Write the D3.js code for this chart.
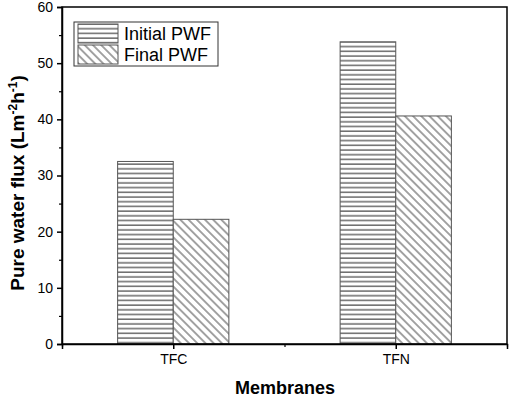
<!DOCTYPE html>
<html>
<head>
<meta charset="utf-8">
<script src="https://cdn.jsdelivr.net/npm/d3@7"></script>
<style>
  body { margin: 0; background: #fff; }
  svg { font-family: Arial, "Liberation Sans", sans-serif; }
</style>
</head>
<body>
<div id="chart"></div>
<script>
// data
var membranes = ["TFC", "TFN"];
var seriesNames = ["Initial PWF", "Final PWF"];
var initialPWF = [32.5, 53.8];
var finalPWF = [22.2, 40.6];
var yTicks = [0, 10, 20, 30, 40, 50, 60];

var width = 510, height = 397;
var margin = {top: 7, right: 3, bottom: 53, left: 62};
var w = width - margin.left - margin.right;
var h = height - margin.top - margin.bottom;

var svg = d3.select("#chart").append("svg")
    .attr("width", width)
    .attr("height", height);

var defs = svg.append("defs");
// horizontal hatch
var p1 = defs.append("pattern")
    .attr("id", "hatchH")
    .attr("patternUnits", "userSpaceOnUse")
    .attr("width", 8).attr("height", 4.7);
p1.append("rect").attr("width", 8).attr("height", 4.7).attr("fill", "#fff");
p1.append("line").attr("x1", 0).attr("x2", 8).attr("y1", 2).attr("y2", 2)
    .attr("stroke", "#333").attr("stroke-width", 1.1);
// diagonal hatch "\\"
var ds = 5.8;
var p2 = defs.append("pattern")
    .attr("id", "hatchD")
    .attr("patternUnits", "userSpaceOnUse")
    .attr("width", ds).attr("height", ds)
    .attr("patternTransform", "rotate(45)");
p2.append("rect").attr("width", ds).attr("height", ds).attr("fill", "#fff");
p2.append("line").attr("x1", 0).attr("x2", ds).attr("y1", ds / 2).attr("y2", ds / 2)
    .attr("stroke", "#333").attr("stroke-width", 0.9);
var fills = ["url(#hatchH)", "url(#hatchD)"];

var g = svg.append("g")
    .attr("transform", "translate(" + margin.left + "," + margin.top + ")");

var x = d3.scaleLinear().domain([0.5, 2.5]).range([0, w]);
var y = d3.scaleLinear().domain([0, 60]).range([h, 0]);
var barW = x(1) - x(0.75);

var data = [];
membranes.forEach(function(m, i) {
    data.push({m: m, s: 0, v: initialPWF[i], pos: i + 1});
    data.push({m: m, s: 1, v: finalPWF[i], pos: i + 1});
});

g.selectAll(".bar")
    .data(data)
    .enter().append("rect")
    .attr("class", "bar")
    .attr("x", function(d) { return d.s === 0 ? x(d.pos) - barW : x(d.pos); })
    .attr("y", function(d) { return y(d.v); })
    .attr("width", barW)
    .attr("height", function(d) { return h - y(d.v); })
    .attr("fill", function(d) { return fills[d.s]; })
    .attr("stroke", "#555")
    .attr("stroke-width", 1);

// frame
g.append("rect")
    .attr("width", w).attr("height", h)
    .attr("fill", "none").attr("stroke", "#000").attr("stroke-width", 1.5);

// y axis
var yAxis = g.append("g")
    .call(d3.axisLeft(y).tickValues(yTicks).tickSize(5).tickPadding(4));
yAxis.select(".domain").attr("stroke-width", 1.5);
yAxis.selectAll(".tick line").attr("stroke-width", 1.5);
yAxis.selectAll("text").attr("font-size", "14px").attr("fill", "#000");
g.append("g")
    .call(d3.axisLeft(y).tickValues(d3.range(5, 60, 10)).tickSize(3).tickFormat(""))
    .call(function(s) { s.select(".domain").remove(); })
    .selectAll("line").attr("stroke-width", 1.2);

// x axis
var xAxis = g.append("g")
    .attr("transform", "translate(0," + h + ")")
    .call(d3.axisBottom(x).tickValues([1, 2]).tickSize(5).tickPadding(5)
        .tickFormat(function(d) { return membranes[d - 1]; }));
xAxis.select(".domain").attr("stroke-width", 1.5);
xAxis.selectAll(".tick line").attr("stroke-width", 1.5);
xAxis.selectAll("text").attr("font-size", "14px").attr("fill", "#000");
g.append("g")
    .attr("transform", "translate(0," + h + ")")
    .call(d3.axisBottom(x).tickValues([0.5, 1.5, 2.5]).tickSize(3).tickFormat(""))
    .call(function(s) { s.select(".domain").remove(); })
    .selectAll("line").attr("stroke-width", 1.2);

// axis titles
svg.append("text")
    .attr("x", 285)
    .attr("y", 394)
    .attr("text-anchor", "middle")
    .attr("font-size", "18px")
    .attr("font-weight", "bold")
    .text("Membranes");

var yt = svg.append("text")
    .attr("transform", "translate(24,183) rotate(-90)")
    .attr("text-anchor", "middle")
    .attr("font-size", "19px")
    .attr("font-weight", "bold");
yt.append("tspan").text("Pure water flux (Lm");
yt.append("tspan").attr("dy", -7).attr("font-size", "12px").text("-2");
yt.append("tspan").attr("dy", 7).text("h");
yt.append("tspan").attr("dy", -7).attr("font-size", "12px").text("-1");
yt.append("tspan").attr("dy", 7).text(")");

// legend
var lg = svg.append("g").attr("transform", "translate(74,22)");
lg.append("rect")
    .attr("width", 144).attr("height", 44)
    .attr("fill", "#fff").attr("stroke", "#333").attr("stroke-width", 1);
seriesNames.forEach(function(name, i) {
    lg.append("rect")
        .attr("x", 4).attr("y", 2 + i * 21)
        .attr("width", 40).attr("height", 19)
        .attr("fill", fills[i]).attr("stroke", "#555");
    lg.append("text")
        .attr("x", 50).attr("y", 18 + i * 21)
        .attr("font-size", "18px")
        .text(name);
});
</script>
</body>
</html>
